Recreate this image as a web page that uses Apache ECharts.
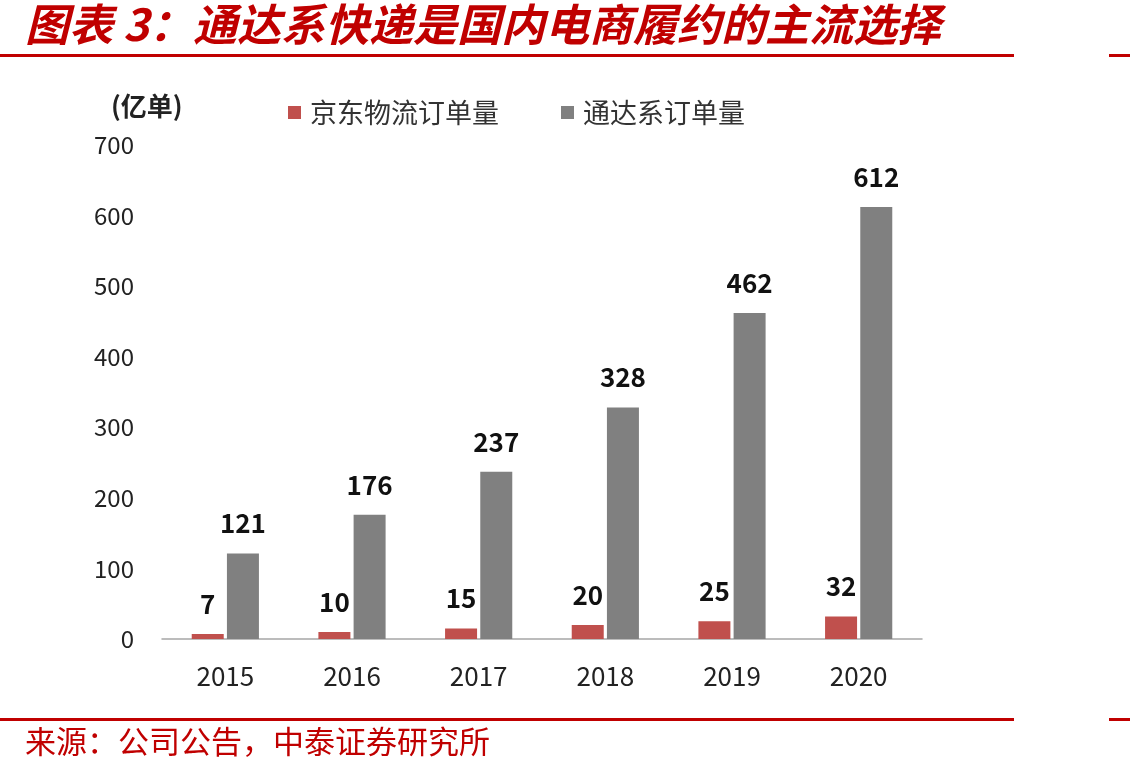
<!DOCTYPE html>
<html>
<head>
<meta charset="utf-8">
<script src="https://cdn.jsdelivr.net/npm/echarts@6/dist/echarts.min.js"></script>
<style>
  html, body { margin: 0; padding: 0; background: #fff; }
  #chart { width: 1130px; height: 774px; }
</style>
</head>
<body>
<div id="chart"></div>
<script>
// 数据
const years = ['2015', '2016', '2017', '2018', '2019', '2020'];
const jdOrders = [7, 10, 15, 20, 25, 32];        // 京东物流订单量（亿单）
const tongdaOrders = [121, 176, 237, 328, 462, 612]; // 通达系订单量（亿单）

const titleText = '图表 3：通达系快递是国内电商履约的主流选择';
const sourceText = '来源：公司公告，中泰证券研究所';
const unitText = '(亿单)';

const RED = '#C00000';
const CJK = '"Noto Sans CJK SC", "Noto Sans", sans-serif';

const chart = echarts.init(document.getElementById('chart'));

const labelStyle = {
  show: true,
  position: 'top',
  distance: 17,
  color: '#111',
  fontSize: 26,
  fontWeight: 'bold',
  fontFamily: CJK,
};

const option = {
  backgroundColor: '#fff',
  animation: false,
  textStyle: { fontFamily: CJK },
  grid: { left: 162, right: 208, top: 145, bottom: 135 },
  legend: {
    left: 283,
    top: 94,
    itemWidth: 13,
    itemHeight: 13,
    itemGap: 62,
    icon: 'rect',
    textStyle: { fontSize: 27, color: '#333', padding: [0, 0, 0, 4], fontFamily: CJK },
    data: ['京东物流订单量', '通达系订单量'],
  },
  xAxis: {
    type: 'category',
    data: years,
    axisLine: { lineStyle: { color: '#a6a6a6', width: 1.5 } },
    axisTick: { show: false },
    axisLabel: { fontSize: 26, color: '#222', margin: 24, fontFamily: CJK },
  },
  yAxis: {
    type: 'value',
    min: 0,
    max: 700,
    interval: 100,
    axisLine: { show: false },
    axisTick: { show: false },
    splitLine: { show: false },
    axisLabel: { fontSize: 24, color: '#222', margin: 28, fontFamily: CJK },
  },
  series: [
    {
      name: '京东物流订单量',
      type: 'bar',
      data: jdOrders,
      barWidth: 32,
      barGap: '10%',
      itemStyle: { color: '#C0504D' },
      label: labelStyle,
    },
    {
      name: '通达系订单量',
      type: 'bar',
      data: tongdaOrders,
      barWidth: 32,
      barGap: '10%',
      itemStyle: { color: '#808080' },
      label: labelStyle,
    },
  ],
  graphic: [
    {
      type: 'text',
      left: 25,
      top: 2,
      style: {
        text: titleText,
        fill: RED,
        font: 'italic bold 44px ' + CJK,
      },
    },
    { type: 'rect', shape: { x: 0, y: 54, width: 1014, height: 3 }, style: { fill: RED } },
    { type: 'rect', shape: { x: 1109, y: 54, width: 21, height: 3 }, style: { fill: RED } },
    {
      type: 'text',
      left: 111,
      top: 93,
      style: { text: unitText, fill: '#222', font: 'bold 26px ' + CJK },
    },
    { type: 'rect', shape: { x: 0, y: 718, width: 1014, height: 3 }, style: { fill: RED } },
    { type: 'rect', shape: { x: 1109, y: 718, width: 21, height: 3 }, style: { fill: RED } },
    {
      type: 'text',
      left: 25,
      top: 726,
      style: { text: sourceText, fill: RED, font: '31px ' + CJK },
    },
  ],
};

chart.setOption(option);
</script>
</body>
</html>
